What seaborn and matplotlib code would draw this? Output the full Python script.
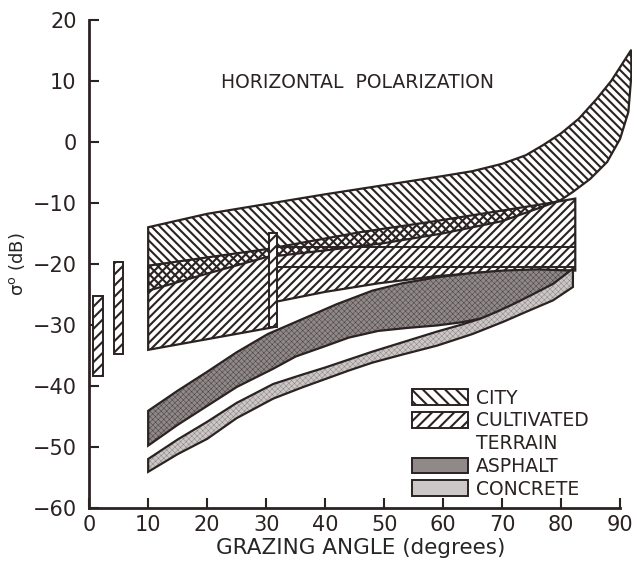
import matplotlib
matplotlib.use("Agg")
import matplotlib.pyplot as plt
import seaborn as sns
from matplotlib.patches import Patch

# --- data (grazing angle in degrees, sigma0 in dB) ---
city_top_x = [10, 20, 30, 40, 50, 60, 65, 70, 74, 77, 80, 83, 86, 88.5, 90.5, 91.9]
city_top_y = [-14.0, -11.8, -10.2, -8.6, -7.1, -5.6, -4.8, -3.6, -2.2, -0.5, 1.4, 3.8, 7.0, 10.0, 13.0, 15.1]
city_bot_x = [10, 20, 30, 40, 50, 60, 70, 76.4, 80, 82, 84.9, 87.8, 90, 91.4, 91.9, 91.9]
city_bot_y = [-24.4, -21.6, -18.9, -17.8, -16.6, -15.0, -13.0, -10.8, -9.5, -8.2, -6.1, -3.3, 0.5, 4.9, 10.8, 15.1]

cult_top_x = [10, 30, 46, 58, 77.6, 82.4]
cult_top_y = [-20.3, -17.6, -14.8, -13.1, -10.1, -9.3]
cult_bot_x = [82.4, 70, 59, 49, 40, 31.2, 31.2, 10]
cult_bot_y = [-21.1, -21.2, -22.0, -23.2, -24.6, -26.3, -30.4, -34.1]
cult_lines_y = [-17.3, -20.6]
cult_lines_x = [31.9, 82.4]

asph_top_x = [10, 15, 20, 25, 30.3, 37, 42, 48, 53, 59, 65, 70.2, 76, 81.5]
asph_top_y = [-44.1, -40.8, -37.7, -34.5, -31.5, -28.7, -26.6, -24.4, -23.2, -22.2, -21.5, -21.1, -20.9, -21.1]
asph_bot_x = [10, 15, 20, 25, 31.2, 35, 39.7, 44, 49, 54, 59, 63, 66.3, 69, 71.9, 75, 78.6, 81.5]
asph_bot_y = [-49.8, -46.4, -43.3, -40.2, -37.2, -35.2, -33.6, -32.1, -31.0, -30.5, -30.1, -29.6, -29.0,
              -28.1, -26.9, -25.4, -23.6, -21.3]

conc_top_x = [10, 15, 20, 25, 31.2, 36, 40, 44, 48, 53, 59, 63, 66.3, 69, 71.9, 75, 78.6, 82]
conc_top_y = [-52.0, -48.8, -45.9, -42.8, -39.7, -38.2, -37.0, -35.7, -34.4, -32.9, -31.1, -30.0, -29.0,
              -27.9, -26.6, -25.1, -23.3, -20.8]
conc_bot_x = [10, 15, 20, 25, 31.2, 36, 40, 44, 48, 53, 59, 65, 70.2, 74, 78.6, 82]
conc_bot_y = [-54.1, -51.2, -48.7, -45.3, -42.1, -40.3, -38.9, -37.5, -36.2, -34.9, -33.4, -31.5, -29.5,
              -27.9, -26.0, -23.8]

# single measurements shown as small hatched bars
bar_x = [1.55, 5.0, 31.2]
bar_w = [1.7, 1.6, 1.4]
bar_lo = [-38.4, -34.8, -30.3]
bar_hi = [-25.2, -19.7, -14.9]

legend_labels = ["CITY", "CULTIVATED", "TERRAIN", "ASPHALT", "CONCRETE"]
x_ticks = list(range(0, 91, 10))
y_ticks = list(range(-60, 21, 10))

INK = "#2b2222"
ASPHALT = "#8f8989"
CONCRETE = "#cdc8c8"

sns.set_theme(style="ticks")
plt.rcParams["font.family"] = ["DejaVu Sans"]
plt.rcParams["hatch.linewidth"] = 1.5
plt.rcParams["hatch.color"] = INK
plt.rcParams["text.color"] = INK
plt.rcParams["axes.edgecolor"] = INK
plt.rcParams["xtick.color"] = INK
plt.rcParams["ytick.color"] = INK

fig = plt.figure(figsize=(6.37, 5.68), dpi=100)
ax = fig.add_axes([0.14, 0.106, 0.852, 0.859])

# city band (\\\)
ax.fill(city_top_x + city_bot_x[::-1], city_top_y + city_bot_y[::-1],
        facecolor="none", edgecolor=INK, hatch="\\\\\\\\", linewidth=1.6, zorder=2)

# cultivated terrain band (///), overlap with city gives the cross-hatch
ax.fill(cult_top_x + cult_bot_x, cult_top_y + cult_bot_y,
        facecolor="none", edgecolor=INK, hatch="////", linewidth=1.6, zorder=2)
for yv in cult_lines_y:
    sns.lineplot(x=cult_lines_x, y=[yv, yv], color=INK, linewidth=1.4, ax=ax, zorder=3)

# asphalt and concrete: grey fill with a fine stipple texture, then the outline
asph_x = asph_top_x + asph_bot_x[::-1]
asph_y = asph_top_y + asph_bot_y[::-1]
conc_x = conc_top_x + conc_bot_x[::-1]
conc_y = conc_top_y + conc_bot_y[::-1]
for xs, ys, face, dots in ((asph_x, asph_y, ASPHALT, "#4a4040"), (conc_x, conc_y, CONCRETE, "#8a8282")):
    tex = ax.fill(xs, ys, facecolor=face, edgecolor=dots, linewidth=0, zorder=3)[0]
    if hasattr(tex, "set_hatch_linewidth"):
        tex.set_hatch("xxxxxx")
        tex.set_hatch_linewidth(0.35)
    ax.fill(xs, ys, facecolor="none", edgecolor=INK, linewidth=1.6, zorder=3)

# small measurement bars
heights = [h - l for h, l in zip(bar_hi, bar_lo)]
ax.bar(bar_x, heights, width=bar_w, bottom=bar_lo, color="white",
       edgecolor=INK, hatch="///", linewidth=1.4, zorder=4)

ax.text(45.5, 9.8, "HORIZONTAL  POLARIZATION", ha="center", va="center", fontsize=13.5)

ax.set_xlim(0, 92)
ax.set_ylim(-60, 20)
ax.set_xticks(x_ticks)
ax.set_yticks(y_ticks)
ax.tick_params(axis="both", direction="in", length=7, width=1.5, labelsize=15)
ax.tick_params(axis="y", pad=9)
ax.tick_params(axis="x", pad=5)
sns.despine(ax=ax)
ax.spines["left"].set_linewidth(2)
ax.spines["bottom"].set_linewidth(2)
ax.spines["bottom"].set_bounds(0, 90)
ax.spines["left"].set_bounds(-60, 20)
ax.grid(False)
ax.set_xlabel("GRAZING ANGLE (degrees)", fontsize=15.5, labelpad=2)
ax.set_ylabel("σ$^{\\mathrm{o}}$ (dB)", fontsize=13, labelpad=4)

handles = [
    Patch(facecolor="white", edgecolor=INK, hatch="\\\\\\", linewidth=1.4),
    Patch(facecolor="white", edgecolor=INK, hatch="///", linewidth=1.4),
    Patch(facecolor="none", edgecolor="none"),
    Patch(facecolor=ASPHALT, edgecolor=INK, linewidth=1.4),
    Patch(facecolor=CONCRETE, edgecolor=INK, linewidth=1.4),
]
ax.legend(handles, legend_labels, loc="upper left", bbox_to_anchor=(0.595, 0.244),
          frameon=False, fontsize=13.5, handlelength=3.0, handleheight=0.9,
          handletextpad=0.4, labelspacing=0.2, borderpad=0, borderaxespad=0)

fig.savefig("out.png", dpi=100)
